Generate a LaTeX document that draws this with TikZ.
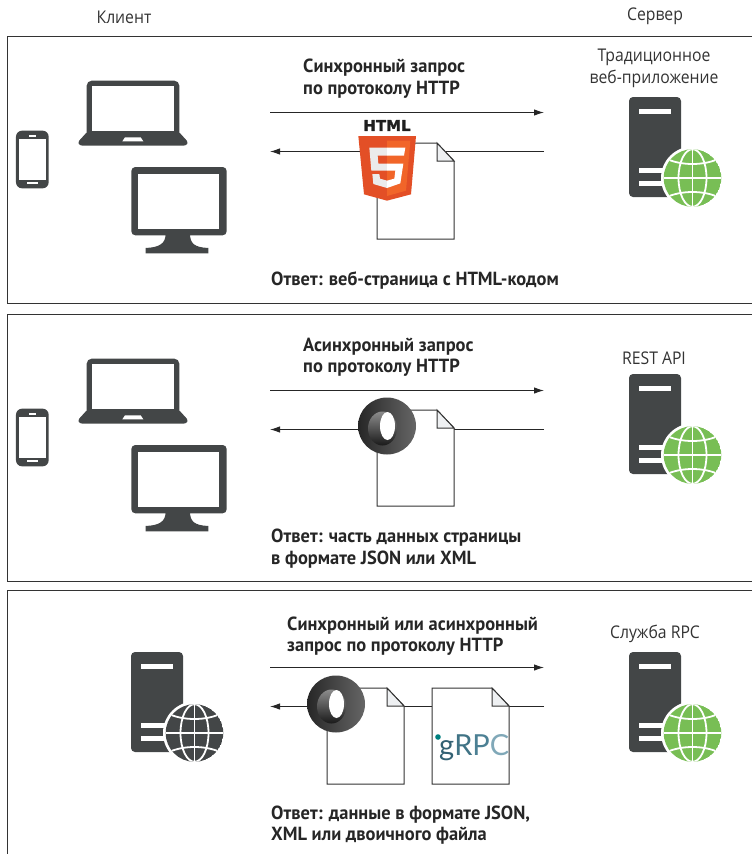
\documentclass[tikz,border=0pt]{standalone}
\usepackage{fontspec}
\setmainfont{Open Sans}[FakeStretch=0.9]
\newfontfamily\capfont{PT Sans}[FakeStretch=0.97]
\newfontfamily\htmlfont{DejaVu Sans}[BoldFeatures={FakeBold=1.5}]
\newfontfamily\grpcfont{Lato}
\usetikzlibrary{arrows.meta}
\definecolor{icondark}{HTML}{434647}
\definecolor{icongreen}{HTML}{78BE55}
\definecolor{framecol}{HTML}{333333}
\definecolor{foldcol}{HTML}{EEF0F2}
\tikzset{
  framebox/.style={draw=framecol,line width=1pt},
  flow/.style={draw=black!85,line width=1pt,-{Latex[length=10pt,width=6.5pt]}},
  plain/.style={font=\fontsize{17.5}{22.5}\selectfont,text=black!80,align=center,inner sep=0pt},
  boldtxt/.style={font=\capfont\fontsize{19}{21.5}\selectfont\bfseries,text=black!85,align=left,anchor=west,inner sep=0pt},
  docline/.style={draw=black!80,line width=1pt,fill=white,line join=miter},
  icon/.style={fill=icondark,draw=none},
  hole/.style={fill=white,draw=none},
}
\newcommand{\docsheet}[2]{%
 \begin{scope}[shift={(#1,#2)}]
  \path[docline] (0,0) -- (60,0) -- (77,18) -- (77,96) -- (0,96) -- cycle;
  \path[docline,fill=foldcol] (60,0) -- (77,18) -- (60,18) -- cycle;
 \end{scope}}
\newcommand{\clientset}[1]{%
 \begin{scope}[shift={(0,#1)},x=0.33333pt,y=-0.33333pt]
  \fill[icon,rounded corners=5pt] (260,340) -- (260,152) -- (538,152) -- (538,340) -- cycle;
  \fill[icon,rounded corners=2.5pt] (262,305) -- (233,337) -- (240,347) -- (558,347) -- (565,337) -- (536,305) -- cycle;
  \fill[hole] (276,167) rectangle (522,303);
  \fill[hole] (375,322) -- (422,322) -- (430,334) -- (367,334) -- cycle;
  \fill[icon,rounded corners=6pt] (48,475) -- (48,302) -- (146,302) -- (146,475) -- cycle;
  \fill[hole] (56,327) rectangle (138,449);
  \fill[hole] (86,315) rectangle (108,320);
  \fill[hole] (82,455) rectangle (113,463);
  \fill[icon,rounded corners=4pt] (394,616) -- (394,411) -- (680,411) -- (680,616) -- cycle;
  \fill[hole] (415,433) rectangle (658,596);
  \fill[icon] (497,610) .. controls (497,640) and (480,652) .. (437,654) -- (437,670) -- (625,670) -- (625,654) .. controls (582,652) and (570,640) .. (570,610) -- cycle;
 \end{scope}}
\newcommand{\servericon}[3]{%
 \begin{scope}[shift={(#1,#2)}]
  \fill[icon,rounded corners=4pt] (629,197) -- (629,97) -- (681,97) -- (681,197) -- cycle;
  \fill[hole] (639,109) rectangle (670.5,113.5);
  \fill[hole] (639,168) rectangle (670,172.5);
  \fill[hole] (639,181) rectangle (670,185.5);
  \fill[white] (692.5,178) circle (31.5);
  \begin{scope}
   \clip (692.5,178) circle (28.8);
   \fill[#3] (692.5,178) circle (28.8);
   \draw[white,line width=1.8pt] (692.5,145) -- (692.5,210);
   \draw[white,line width=1.8pt] (692.5,178) ellipse (14 and 28.8);
   \draw[white,line width=1.8pt] (660,178) -- (725,178);
   \draw[white,line width=1.8pt] (665,158) .. controls (680,166) and (705,166) .. (720,158);
   \draw[white,line width=1.8pt] (665,198) .. controls (680,190) and (705,190) .. (720,198);
  \end{scope}
 \end{scope}}
\newcommand{\jsonring}[2]{%
 \begin{scope}[shift={(#1,#2)}]
  \shade[shading angle=25,left color=black!85,middle color=black,right color=black!60] (0,0) ellipse (29 and 28.5);
  \shade[shading angle=200,top color=black!45,bottom color=black!90] (-4.5,2.5) ellipse (14.5 and 17);
  \fill[white] (0.5,0) ellipse (7.5 and 14);
 \end{scope}}
\begin{document}
\begin{tikzpicture}[x=1pt,y=-1pt]
\useasboundingbox (0,0) rectangle (752,854);
\path[framebox] (751.5,36.5) -- (7.5,36.5) -- (7.5,303.5) -- (751.5,303.5);
\path[framebox] (751.5,314.5) -- (7.5,314.5) -- (7.5,581.5) -- (751.5,581.5);
\path[framebox] (7.5,854) -- (7.5,590.5) -- (751.5,590.5);
\node[plain] (hclient) at (124,17) {Клиент};
\node[plain] (hserver) at (655,16) {Сервер};
\node[plain] (s1) at (654,68.5) {Традиционное\\веб-приложение};
\node[plain] (s2) at (654,358) {REST API};
\node[plain] (s3) at (655,634) {Служба RPC};
\clientset{30}
\clientset{308}
\servericon{0}{0}{icongreen}
\servericon{0}{277}{icongreen}
\servericon{0}{555}{icongreen}
\servericon{-498}{555}{icondark}
\coordinate (a1l) at (270,112.5); \coordinate (a1r) at (544,112.5);
\coordinate (b1l) at (270,151.5); \coordinate (b1r) at (544,151.5);
\coordinate (a2l) at (270,390.5); \coordinate (a2r) at (544,390.5);
\coordinate (b2l) at (270,429.5); \coordinate (b2r) at (544,429.5);
\coordinate (a3l) at (270,667.5); \coordinate (a3r) at (544,667.5);
\coordinate (b3l) at (270,706.5); \coordinate (b3r) at (544,706.5);
\draw[flow] (a1l) -- (a1r);
\draw[flow] (b1r) -- (b1l);
\draw[flow] (a2l) -- (a2r);
\draw[flow] (b2r) -- (b2l);
\draw[flow] (a3l) -- (a3r);
\draw[flow] (b3r) -- (b3l);
\docsheet{377}{143}
\docsheet{377}{410}
\docsheet{327}{688}
\docsheet{432}{688}
\begin{scope}[shift={(340,100)},x=0.33333pt,y=-0.33333pt]
 \fill[fill={rgb,255:red,227;green,79;blue,38}] (55,108) -- (228,108) -- (213,283) -- (141,302) -- (72,283) -- cycle;
 \fill[fill={rgb,255:red,241;green,101;blue,41}] (141,122) -- (211,122) -- (198,272) -- (141,288) -- cycle;
 \fill[fill={rgb,255:red,235;green,235;blue,235}] (88,143) -- (141,143) -- (141,167) -- (113,167) -- (115,191) -- (141,191) -- (141,212) -- (94,212) -- cycle;
 \fill[fill={rgb,255:red,235;green,235;blue,235}] (97,222) -- (118,222) -- (120,236) -- (141,242) -- (141,264) -- (100,252) -- cycle;
 \fill[white] (141,143) -- (196,143) -- (192,167) -- (141,167) -- cycle;
 \fill[white] (141,191) -- (190,191) -- (181,250) -- (141,264) -- (141,242) -- (163,236) -- (166,212) -- (141,212) -- cycle;
\end{scope}
\node[font=\htmlfont\bfseries\fontsize{15}{15}\selectfont,text=black!88,inner sep=0pt] (htmltxt) at (387,125.5) {HTML};
\jsonring{387}{426}
\jsonring{336}{704}
\node[font=\grpcfont\fontsize{29}{29}\selectfont,inner sep=0pt,anchor=base west] (grpc) at (439,755) {\textcolor[rgb]{.2,.38,.45}{g}\textcolor[rgb]{.25,.45,.52}{R}\textcolor[rgb]{.3,.5,.58}{P}\textcolor[rgb]{.5,.66,.72}{C}};
\fill[teal] (438,737) circle (2.8);
\node[boldtxt] (c1) at (303,78.5) {Синхронный запрос\\по протоколу HTTP};
\node[boldtxt] (c2) at (303,357) {Асинхронный запрос\\по протоколу HTTP};
\node[boldtxt] (c3) at (287,636) {Синхронный или асинхронный\\запрос по протоколу HTTP};
\node[boldtxt] (r1) at (271,280) {Ответ: веб-страница с HTML-кодом};
\node[boldtxt] (r2) at (271,548.5) {Ответ: часть данных страницы\\в формате JSON или XML};
\node[boldtxt] (r3) at (271,825) {Ответ: данные в формате JSON,\\XML или двоичного файла};
\end{tikzpicture}
\end{document}
